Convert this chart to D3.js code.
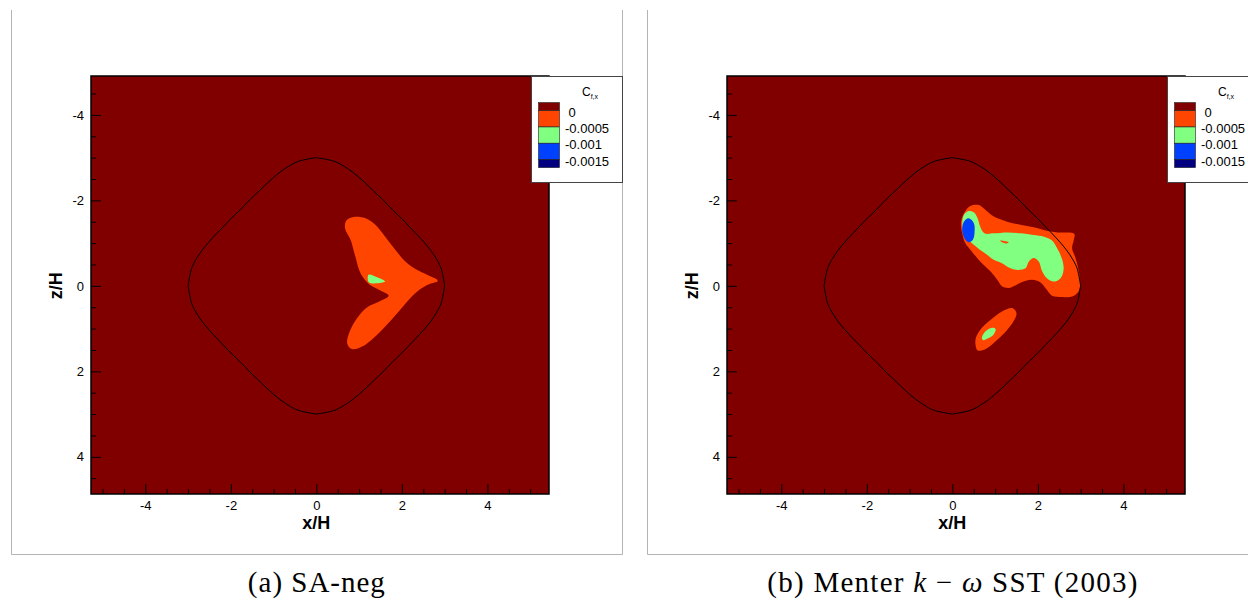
<!DOCTYPE html>
<html>
<head>
<meta charset="utf-8">
<script src="https://cdn.jsdelivr.net/npm/d3@7"></script>
<style>
  body { margin: 0; background: #fff; }
  svg { display: block; }
  .sans { font-family: "Liberation Sans", Arial, sans-serif; }
  .serif { font-family: "Liberation Serif", "Times New Roman", "DejaVu Serif", serif; }
</style>
</head>
<body>
<svg id="chart" width="1248" height="602"></svg>
<script>
// axis ticks (x/H and z/H)
var majorTicks = [-4, -2, 0, 2, 4];
var minorTicks = [-5, -4.5, -3.5, -3, -2.5, -1.5, -1, -0.5, 0.5, 1, 1.5, 2.5, 3, 3.5, 4.5, 5];

// contour legend
var levelLabels = ["0", "-0.0005", "-0.001", "-0.0015"];
var bandColors = ["#800000", "#ff4500", "#80ff80", "#0040ff", "#000080"];

// body outline, first quadrant (x/H, z/H), mirrored into the other three
var outlineQuarter = [[0, 3.0], [0.4, 2.92], [0.61, 2.82], [0.85, 2.66], [1.13, 2.42], [1.37, 2.19],
  [1.55, 2.02], [1.78, 1.78], [2.02, 1.55], [2.19, 1.37], [2.42, 1.13], [2.66, 0.85],
  [2.82, 0.61], [2.92, 0.4], [3.0, 0]];

// (a) SA-neg
var saOrange = [[0.70, -1.53], [0.87, -1.61], [1.15, -1.58], [1.38, -1.43], [1.61, -1.15], [1.85, -0.84],
  [2.08, -0.57], [2.36, -0.37], [2.59, -0.26], [2.84, -0.12], [2.59, -0.02], [2.36, 0.13],
  [2.12, 0.37], [1.89, 0.64], [1.61, 0.95], [1.34, 1.22], [1.07, 1.42], [0.83, 1.48],
  [0.72, 1.34], [0.78, 1.07], [0.95, 0.76], [1.19, 0.50], [1.46, 0.37], [1.69, 0.23],
  [1.50, 0.11], [1.22, -0.05], [1.03, -0.30], [0.91, -0.69], [0.80, -1.08], [0.67, -1.35]];
var saGreen = [[1.22, -0.26], [1.42, -0.20], [1.61, -0.10], [1.23, -0.08]];

// (b) Menter k-omega SST (2003)
var sstOrange = [[0.27, -1.70], [0.42, -1.87], [0.62, -1.89], [0.77, -1.78], [0.97, -1.62], [1.28, -1.50],
  [1.59, -1.43], [1.90, -1.37], [2.21, -1.29], [2.45, -1.25], [2.85, -1.22], [2.84, -1.08],
  [2.80, -0.88], [2.88, -0.65], [2.95, -0.37], [2.99, -0.06], [2.95, 0.13], [2.80, 0.25],
  [2.57, 0.26], [2.33, 0.23], [2.21, 0.09], [2.06, -0.08], [1.86, -0.14], [1.63, -0.09],
  [1.47, -0.01], [1.32, 0.05], [1.16, 0.01], [1.05, -0.14], [0.89, -0.34], [0.65, -0.57],
  [0.46, -0.80], [0.30, -1.00], [0.23, -1.23], [0.20, -1.47]];
var sstGreen = [[0.27, -1.66], [0.38, -1.75], [0.50, -1.72], [0.59, -1.58], [0.65, -1.39], [0.75, -1.23],
  [0.97, -1.23], [1.28, -1.25], [1.59, -1.23], [1.90, -1.19], [2.14, -1.15], [2.33, -1.06],
  [2.46, -0.86], [2.57, -0.61], [2.60, -0.37], [2.53, -0.18], [2.37, -0.10], [2.21, -0.18],
  [2.10, -0.34], [2.02, -0.57], [1.90, -0.65], [1.79, -0.57], [1.71, -0.41], [1.55, -0.37],
  [1.36, -0.41], [1.16, -0.53], [0.97, -0.61], [0.81, -0.73], [0.65, -0.84], [0.50, -0.96],
  [0.38, -1.08], [0.27, -1.23], [0.23, -1.47]];
var sstBlue = [[0.27, -1.50], [0.38, -1.58], [0.50, -1.47], [0.52, -1.27], [0.48, -1.08], [0.38, -1.02],
  [0.28, -1.12], [0.23, -1.31]];
var sstSliver = [[1.12, -1.06], [1.32, -1.02], [1.26, -0.99], [1.14, -1.03]];
var sstSpotOrange = [[0.58, 1.50], [0.54, 1.26], [0.65, 1.03], [0.89, 0.80], [1.16, 0.60], [1.40, 0.52],
  [1.50, 0.64], [1.43, 0.83], [1.28, 1.03], [1.05, 1.26], [0.81, 1.46], [0.65, 1.52]];
var sstSpotGreen = [[0.69, 1.22], [0.77, 1.07], [0.93, 0.98], [1.01, 1.01], [0.97, 1.13], [0.81, 1.24],
  [0.72, 1.27]];

var captions = ["(a) SA-neg", "(b) Menter k \u2212 \u03c9 SST (2003)"];

var panels = [
  { caption: 0, regions: [{ band: 1, pts: saOrange }, { band: 2, pts: saGreen }] },
  { caption: 1, regions: [{ band: 1, pts: sstOrange }, { band: 2, pts: sstGreen }, { band: 3, pts: sstBlue },
      { band: 1, pts: sstSliver }, { band: 1, pts: sstSpotOrange }, { band: 2, pts: sstSpotGreen }] }
];

var W = 458, H = 418;
var x = d3.scaleLinear().domain([-5.27, 5.44]).range([0, W]);
var z = d3.scaleLinear().domain([-4.91, 4.87]).range([0, H]);

var outline = [];
outlineQuarter.forEach(function(p) { outline.push([p[0], p[1]]); });
outlineQuarter.slice().reverse().forEach(function(p) { outline.push([p[0], -p[1]]); });
outlineQuarter.forEach(function(p) { outline.push([-p[0], -p[1]]); });
outlineQuarter.slice().reverse().forEach(function(p) { outline.push([-p[0], p[1]]); });

var closedLine = d3.line()
  .x(function(d) { return x(d[0]); })
  .y(function(d) { return z(d[1]); })
  .curve(d3.curveCatmullRomClosed.alpha(0.5));

var svg = d3.select("#chart");

panels.forEach(function(p, i) {
  var g = svg.append("g").attr("transform", "translate(" + (91 + i * 636) + ",76)");

  // page frame around the sub-figure
  g.append("path")
    .attr("d", "M -79.5 -66 V 478.5 H 531.5 V -66")
    .attr("fill", "none")
    .attr("stroke", "#b4b4b4")
    .attr("stroke-width", 1);

  g.append("clipPath").attr("id", "clip" + i)
    .append("rect").attr("width", W).attr("height", H);

  var plot = g.append("g").attr("clip-path", "url(#clip" + i + ")");
  plot.append("rect").attr("width", W).attr("height", H).attr("fill", bandColors[0]);

  p.regions.forEach(function(r) {
    plot.append("path")
      .attr("d", closedLine(r.pts))
      .attr("fill", bandColors[r.band]);
  });

  plot.append("path")
    .attr("d", closedLine(outline))
    .attr("fill", "none")
    .attr("stroke", "#000")
    .attr("stroke-width", 1);

  // axes
  var fmt = function(d) { return String(d); };
  g.append("g").attr("transform", "translate(0," + H + ")")
    .call(d3.axisBottom(x).tickValues(minorTicks).tickSize(-5).tickFormat(""))
    .call(function(s) { s.select(".domain").remove(); });
  g.append("g").attr("transform", "translate(0," + H + ")")
    .call(d3.axisBottom(x).tickValues(majorTicks).tickSize(-10).tickPadding(7).tickFormat(fmt))
    .call(function(s) {
      s.select(".domain").remove();
      s.selectAll("text").attr("class", "sans").attr("font-family", null).attr("font-size", 13);
    });
  g.append("g")
    .call(d3.axisLeft(z).tickValues(minorTicks.filter(function(v) { return v > -4.91 && v < 4.87; }))
      .tickSize(-5).tickFormat(""))
    .call(function(s) { s.select(".domain").remove(); });
  g.append("g")
    .call(d3.axisLeft(z).tickValues(majorTicks).tickSize(-10).tickPadding(7).tickFormat(fmt))
    .call(function(s) {
      s.select(".domain").remove();
      s.selectAll("text").attr("class", "sans").attr("font-family", null).attr("font-size", 13);
    });
  g.selectAll(".tick text").attr("font-family", null);
  g.selectAll("g").filter(function() { return this.getAttribute("font-family"); })
    .attr("font-family", null);

  g.append("rect").attr("width", W).attr("height", H)
    .attr("fill", "none").attr("stroke", "#000").attr("stroke-width", 1.5);

  g.append("text")
    .attr("class", "sans")
    .attr("x", x(0)).attr("y", H + 35)
    .attr("text-anchor", "middle")
    .attr("font-weight", "bold").attr("font-size", 18)
    .text("x/H");
  g.append("text")
    .attr("class", "sans")
    .attr("transform", "translate(-35," + z(0) + ") rotate(-90)")
    .attr("text-anchor", "middle")
    .attr("dy", "0.35em")
    .attr("font-weight", "bold").attr("font-size", 18)
    .text("z/H");

  // legend
  var lg = g.append("g").attr("transform", "translate(440,0)");
  lg.append("rect").attr("x", 0.5).attr("y", 0.5).attr("width", 91).attr("height", 106)
    .attr("fill", "#fff").attr("stroke", "#444").attr("stroke-width", 1);
  var title = lg.append("text").attr("class", "sans").attr("x", 51).attr("y", 20)
    .attr("font-size", 12);
  title.append("tspan").text("C");
  title.append("tspan").attr("font-size", 7).attr("dy", 3).text("f,x");

  var ly = d3.scaleLinear().domain([0, 3]).range([34.7, 83.5]);
  var step = ly(1) - ly(0);
  bandColors.forEach(function(c, k) {
    var top = k === 0 ? ly(0) - step / 2 : ly(k - 1);
    var bot = k === bandColors.length - 1 ? ly(3) + step / 2 : ly(k);
    lg.append("rect")
      .attr("x", 7.5).attr("y", top).attr("width", 21).attr("height", bot - top)
      .attr("fill", c).attr("stroke", "#222").attr("stroke-width", 0.6);
  });
  levelLabels.forEach(function(t, k) {
    lg.append("text")
      .attr("class", "sans")
      .attr("x", t.charAt(0) === "-" ? 34 : 37.5)
      .attr("y", ly(k) + 1.5)
      .attr("dy", "0.35em")
      .attr("font-size", 13)
      .text(t);
  });

  // caption
  var cap = g.append("text")
    .attr("class", "serif")
    .attr("x", x(0)).attr("y", 516)
    .attr("text-anchor", "middle")
    .attr("font-size", 29);
  if (p.caption === 0) {
    cap.text(captions[0]).attr("textLength", 137).attr("lengthAdjust", "spacing");
  } else {
    cap.attr("textLength", 370).attr("lengthAdjust", "spacing");
    cap.append("tspan").text("(b) Menter ");
    cap.append("tspan").attr("font-style", "italic").text("k");
    cap.append("tspan").text(" \u2212 ");
    cap.append("tspan").attr("font-style", "italic").text("\u03c9");
    cap.append("tspan").text(" SST (2003)");
  }
});
</script>
</body>
</html>
